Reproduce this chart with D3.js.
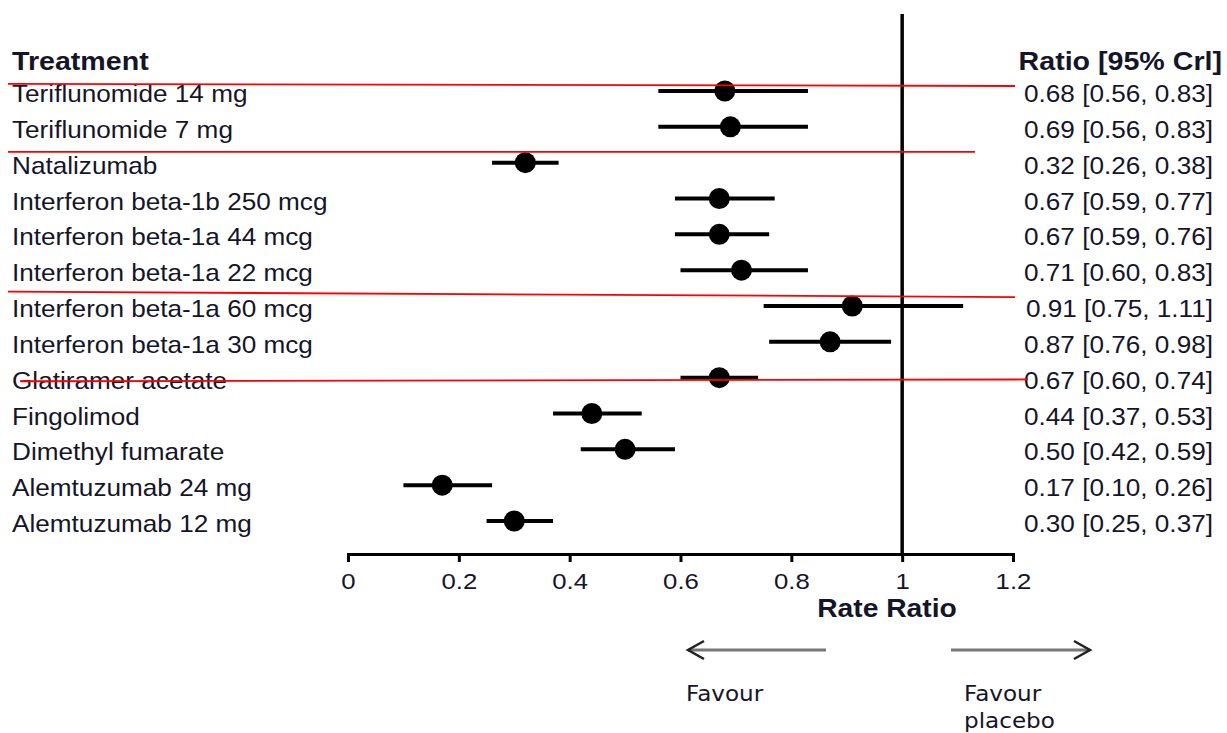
<!DOCTYPE html>
<html>
<head>
<meta charset="utf-8">
<script src="https://cdn.jsdelivr.net/npm/d3@7"></script>
<style>
  body { margin: 0; background: #fff; }
  svg text { font-family: "Liberation Sans", Arial, sans-serif; fill: #15152a; }
</style>
</head>
<body>
<svg id="chart" width="1227" height="733"></svg>
<script>
// forest plot data
const treatments = [
  'Teriflunomide 14 mg', 'Teriflunomide 7 mg', 'Natalizumab',
  'Interferon beta-1b 250 mcg', 'Interferon beta-1a 44 mcg', 'Interferon beta-1a 22 mcg',
  'Interferon beta-1a 60 mcg', 'Interferon beta-1a 30 mcg', 'Glatiramer acetate',
  'Fingolimod', 'Dimethyl fumarate', 'Alemtuzumab 24 mg', 'Alemtuzumab 12 mg'
]
const ratio = [0.68, 0.69, 0.32, 0.67, 0.67, 0.71, 0.91, 0.87, 0.67, 0.44, 0.50, 0.17, 0.30]
const lower = [0.56, 0.56, 0.26, 0.59, 0.59, 0.60, 0.75, 0.76, 0.60, 0.37, 0.42, 0.10, 0.25]
const upper = [0.83, 0.83, 0.38, 0.77, 0.76, 0.83, 1.11, 0.98, 0.74, 0.53, 0.59, 0.26, 0.37]
const xTicks = [0, 0.2, 0.4, 0.6, 0.8, 1, 1.2]

// red hand-drawn separators (row positions are fractional row indices)
const redLines = [
  { x0: 8, x1: 1015, r0: -0.2, r1: -0.14 },
  { x0: 8, x1: 975, r0: 1.7, r1: 1.7 },
  { x0: 8, x1: 1015, r0: 5.6, r1: 5.75 },
  { x0: 20, x1: 1028, r0: 8.1, r1: 8.05 }
]

const svg = d3.select('#chart')

let x = d3.scaleLinear().domain([0, 1.2]).range([348, 1013])
let y = d3.scaleLinear().domain([0, treatments.length - 1]).range([91, 521])
let axisY = 554
// the source picture is a little wider than tall, so text gets stretched
let sx = 1.09

const rows = treatments.map((t, i) => ({ t, r: ratio[i], lo: lower[i], hi: upper[i], i }))

function place(sel, px, py, k) {
  return sel.attr('transform', 'translate(' + px + ',' + py + ') scale(' + (k || sx) + ',1)')
}

////////////////////////////////////////////////////////////////////////////////
// headers
////////////////////////////////////////////////////////////////////////////////
place(svg.append('text'), 12, 70, 1.1)
  .style('font-size', '26px').style('font-weight', 'bold')
  .text('Treatment')

place(svg.append('text'), 1222, 70, 1.1)
  .attr('text-anchor', 'end')
  .style('font-size', '26px').style('font-weight', 'bold')
  .text('Ratio [95% Crl]')

////////////////////////////////////////////////////////////////////////////////
// reference line at 1 and x axis
////////////////////////////////////////////////////////////////////////////////
svg.append('line')
  .attr('x1', x(1)).attr('x2', x(1))
  .attr('y1', 14).attr('y2', axisY)
  .attr('stroke', '#000').attr('stroke-width', 3.5)

let axis = svg.append('g')
  .attr('transform', 'translate(0,' + axisY + ')')
  .call(d3.axisBottom(x).tickValues(xTicks).tickFormat(d3.format('')).tickSize(8).tickSizeOuter(8))

axis.select('.domain').attr('stroke', '#000').attr('stroke-width', 3)
axis.selectAll('.tick line').attr('stroke', '#000').attr('stroke-width', 3)
axis.selectAll('.tick text')
  .attr('y', 0).attr('dy', 0)
  .attr('transform', 'translate(0,35) scale(1.12,1)')
  .style('font-size', '23px')
  .style('font-family', '"Liberation Sans", Arial, sans-serif')
  .attr('fill', '#15152a')

place(svg.append('text'), 887, 617, 1.13)
  .attr('text-anchor', 'middle')
  .style('font-size', '25px').style('font-weight', 'bold')
  .text('Rate Ratio')

////////////////////////////////////////////////////////////////////////////////
// rows
////////////////////////////////////////////////////////////////////////////////
svg.selectAll('.label')
  .data(rows).enter().append('text')
  .attr('class', 'label')
  .attr('transform', d => 'translate(12,' + (y(d.i) + 11) + ') scale(' + sx + ',1)')
  .style('font-size', '24px')
  .text(d => d.t)

svg.selectAll('.ci')
  .data(rows).enter().append('line')
  .attr('class', 'ci')
  .attr('x1', d => x(d.lo)).attr('x2', d => x(d.hi))
  .attr('y1', d => y(d.i)).attr('y2', d => y(d.i))
  .attr('stroke', '#000').attr('stroke-width', 4)

svg.selectAll('.pt')
  .data(rows).enter().append('circle')
  .attr('class', 'pt')
  .attr('cx', d => x(d.r)).attr('cy', d => y(d.i))
  .attr('r', 10.5)
  .attr('fill', '#000')

let f2 = d3.format('.2f')
svg.selectAll('.val')
  .data(rows).enter().append('text')
  .attr('class', 'val')
  .attr('transform', d => 'translate(1213,' + (y(d.i) + 11) + ') scale(' + sx + ',1)')
  .attr('text-anchor', 'end')
  .style('font-size', '24px')
  .text(d => f2(d.r) + ' [' + f2(d.lo) + ', ' + f2(d.hi) + ']')

////////////////////////////////////////////////////////////////////////////////
// red overlay lines
////////////////////////////////////////////////////////////////////////////////
svg.selectAll('.red')
  .data(redLines).enter().append('line')
  .attr('x1', d => d.x0).attr('x2', d => d.x1)
  .attr('y1', d => y(d.r0)).attr('y2', d => y(d.r1))
  .attr('stroke', '#f00').attr('stroke-width', 1.8)

////////////////////////////////////////////////////////////////////////////////
// favour arrows
////////////////////////////////////////////////////////////////////////////////
let arrowY = 650
let arrows = [
  { from: 826, to: 688 },
  { from: 951, to: 1090 }
]
arrows.forEach(a => {
  let dir = a.to < a.from ? 1 : -1
  svg.append('line')
    .attr('x1', a.from).attr('x2', a.to)
    .attr('y1', arrowY).attr('y2', arrowY)
    .attr('stroke', '#777').attr('stroke-width', 3)
  svg.append('path')
    .attr('d', 'M' + (a.to + dir * 16) + ',' + (arrowY - 9) + 'L' + a.to + ',' + arrowY + 'L' + (a.to + dir * 16) + ',' + (arrowY + 9))
    .attr('fill', 'none').attr('stroke', '#222').attr('stroke-width', 2.5)
})

let favour = [
  { t: 'Favour', px: 686, py: 701 },
  { t: 'Favour', px: 964, py: 701 },
  { t: 'placebo', px: 964, py: 728 }
]
favour.forEach(f => {
  place(svg.append('text'), f.px, f.py, 1.1)
    .style('font-family', '"DejaVu Sans", Verdana, sans-serif').style('font-size', '21px')
    .text(f.t)
})
</script>
</body>
</html>
